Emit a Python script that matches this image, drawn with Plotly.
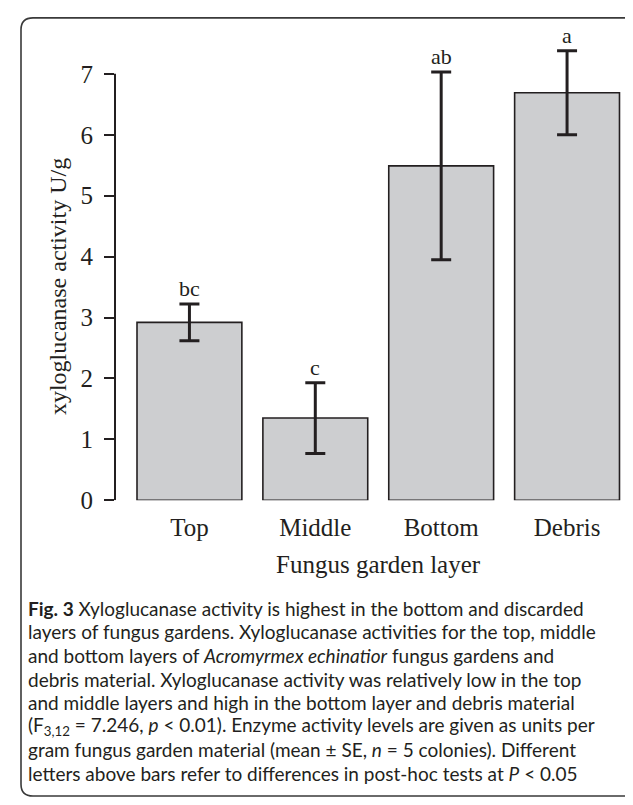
import plotly.graph_objects as go

# ---- data ----
categories = ["Top", "Middle", "Bottom", "Debris"]
means = [2.92, 1.35, 5.49, 6.69]
se = [0.30, 0.58, 1.54, 0.69]
letters = ["bc", "c", "ab", "a"]
y_ticks = [0, 1, 2, 3, 4, 5, 6, 7]

W, H = 633, 805
INK = "#231F20"
SERIF = "Liberation Serif, Times New Roman, serif"
SANS = "Lato, Open Sans, sans-serif"

def px(x):
    return x / W

def py(y):
    return 1 - y / H

fig = go.Figure()
fig.add_trace(go.Bar(
    x=list(range(len(categories))),
    y=means,
    marker=dict(color="#CDCED0", line=dict(color=INK, width=1.6)),
    error_y=dict(type="data", array=se, visible=True, color=INK, thickness=3, width=10),
    width=0.833,
    cliponaxis=False,
    hoverinfo="skip",
))

annotations = []
for i, (m, s, lt) in enumerate(zip(means, se, letters)):
    annotations.append(dict(x=i, y=m + s, xref="x", yref="y", text=lt, showarrow=False,
                            yanchor="bottom", yshift=1,
                            font=dict(family=SERIF, size=22, color=INK)))

# y-axis title
annotations.append(dict(x=px(50), y=py(284), xref="paper", yref="paper",
                        text="xyloglucanase activity U/g", textangle=-90, showarrow=False,
                        xanchor="center", yanchor="middle",
                        font=dict(family=SERIF, size=24, color=INK)))
# x-axis title
annotations.append(dict(x=px(370), y=py(566), xref="paper", yref="paper",
                        text="Fungus garden layer", showarrow=False,
                        xanchor="center", yanchor="middle",
                        font=dict(family=SERIF, size=25, color=INK)))

caption = [
    "<b>Fig. 3</b> Xyloglucanase activity is highest in the bottom and discarded",
    "layers of fungus gardens. Xyloglucanase activities for the top, middle",
    "and bottom layers of <i>Acromyrmex echinatior</i> fungus gardens and",
    "debris material. Xyloglucanase activity was relatively low in the top",
    "and middle layers and high in the bottom layer and debris material",
    "(F<sub>3,12</sub> = 7.246, <i>p</i> &lt; 0.01). Enzyme activity levels are given as units per",
    "gram fungus garden material (mean ± SE, <i>n</i> = 5 colonies). Different",
    "letters above bars refer to differences in post-hoc tests at <i>P</i> &lt; 0.05",
]
for k, line in enumerate(caption):
    annotations.append(dict(x=px(18), y=py(611 + 24 * k), xref="paper", yref="paper",
                            text=line, showarrow=False, xanchor="left", yanchor="middle",
                            font=dict(family=SANS, size=19, color=INK)))

# rounded border
x0, y0, x1, y1, r = 13, 10, 631, 802, 12
path = (f"M {px(x0+r)},{py(y0)} L {px(x1-r)},{py(y0)} Q {px(x1)},{py(y0)} {px(x1)},{py(y0+r)} "
        f"L {px(x1)},{py(y1-r)} Q {px(x1)},{py(y1)} {px(x1-r)},{py(y1)} "
        f"L {px(x0+r)},{py(y1)} Q {px(x0)},{py(y1)} {px(x0)},{py(y1-r)} "
        f"L {px(x0)},{py(y0+r)} Q {px(x0)},{py(y0)} {px(x0+r)},{py(y0)} Z")
shapes = [
    dict(type="path", path=path, xref="paper", yref="paper",
         line=dict(color="#3a3a3a", width=1.6)),
    dict(type="line", xref="paper", yref="y", x0=px(107), x1=px(107),
         y0=y_ticks[0], y1=y_ticks[-1], line=dict(color=INK, width=2)),
]

y_top = 7.9
ppu = (501 - 67) / 7.0
fig.update_layout(
    width=W, height=H,
    margin=dict(l=0, r=0, t=0, b=0),
    paper_bgcolor="white", plot_bgcolor="white",
    showlegend=False,
    annotations=annotations,
    shapes=shapes,
    xaxis=dict(
        domain=[px(107), px(620)],
        range=[-(181.5 - 107) / 126, 3 + (620 - 559) / 126],
        tickmode="array", tickvals=list(range(len(categories))), ticktext=categories,
        showline=False, showgrid=False, zeroline=False, ticks="",
        tickfont=dict(family=SERIF, size=25, color=INK),
        ticklabelstandoff=10,
    ),
    yaxis=dict(
        domain=[py(501), py(501 - y_top * ppu)],
        range=[0, y_top],
        tickmode="array", tickvals=y_ticks,
        showline=False, showgrid=False, zeroline=False,
        ticks="outside", ticklen=10, tickwidth=2, tickcolor=INK,
        tickfont=dict(family=SERIF, size=25, color=INK),
        ticklabelstandoff=6,
    ),
)

fig.write_html("out.html")
